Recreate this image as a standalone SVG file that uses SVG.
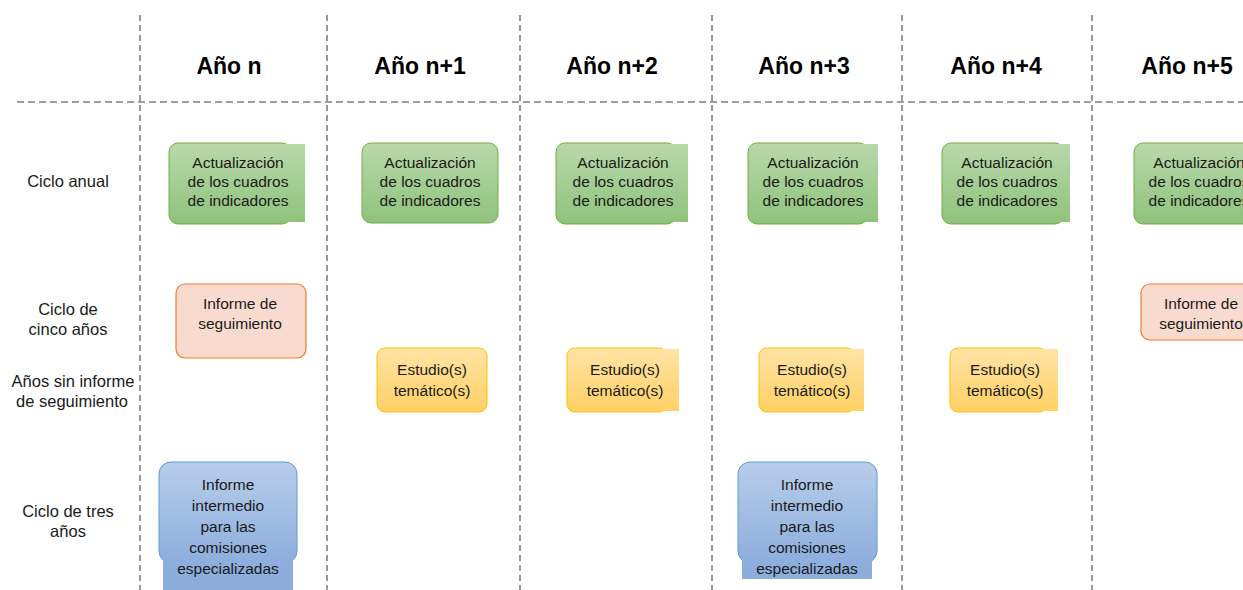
<svg xmlns="http://www.w3.org/2000/svg" width="1243" height="590" viewBox="0 0 1243 590">
<defs>
<linearGradient id="gG" gradientUnits="userSpaceOnUse" x1="0" y1="143" x2="0" y2="224"><stop offset="0" stop-color="#b8d9aa"/><stop offset="1" stop-color="#8fc27b"/></linearGradient>
<linearGradient id="gY" gradientUnits="userSpaceOnUse" x1="0" y1="348" x2="0" y2="412"><stop offset="0" stop-color="#ffe4a6"/><stop offset="1" stop-color="#ffd064"/></linearGradient>
<linearGradient id="gB" gradientUnits="userSpaceOnUse" x1="0" y1="462" x2="0" y2="563"><stop offset="0" stop-color="#b8cdea"/><stop offset="1" stop-color="#8daedd"/></linearGradient>
</defs>
<style>
.grid{stroke:#7f7f7f;stroke-width:1.6;fill:none}
.v{stroke-dasharray:6 4}
.h{stroke-dasharray:7 4}
.hd{font-family:"Liberation Sans",Arial,sans-serif;font-weight:bold;font-size:23px;fill:#000;text-anchor:middle}
.rl{font-family:"Liberation Sans",Arial,sans-serif;font-size:16.5px;fill:#1a1a1a;text-anchor:middle}
.t{font-family:"Liberation Sans",Arial,sans-serif;font-size:15.5px;fill:#1a1a1a;text-anchor:middle}
.gb{fill:url(#gG);stroke:#70ad47;stroke-width:1}
.ge{fill:url(#gG)}
.ob{fill:#f8dacf;stroke:#ed7d31;stroke-width:1.2}
.yb{fill:url(#gY);stroke:#ffc000;stroke-width:1}
.ye{fill:url(#gY)}
.bb{fill:url(#gB);stroke:#5b9bd5;stroke-width:1}
.be{fill:url(#gB)}
</style>
<rect width="1243" height="590" fill="#ffffff"/>
<g id="connectors">
<line class="grid v" x1="140" y1="15" x2="140" y2="590"/>
<line class="grid v" x1="327" y1="15" x2="327" y2="590"/>
<line class="grid v" x1="520" y1="15" x2="520" y2="590"/>
<line class="grid v" x1="712" y1="15" x2="712" y2="590"/>
<line class="grid v" x1="902" y1="15" x2="902" y2="590"/>
<line class="grid v" x1="1092" y1="15" x2="1092" y2="590"/>
<line class="grid h" x1="17" y1="102" x2="1243" y2="102"/>
</g>
<g id="headers">
<text class="hd" x="229" y="74">Año n</text>
<text class="hd" x="420" y="74">Año n+1</text>
<text class="hd" x="612" y="74">Año n+2</text>
<text class="hd" x="804" y="74">Año n+3</text>
<text class="hd" x="996" y="74">Año n+4</text>
<text class="hd" x="1187" y="74">Año n+5</text>
</g>
<g id="row-labels">
<text class="rl" x="68" y="187">Ciclo anual</text>
<text class="rl" x="68" y="315">Ciclo de</text>
<text class="rl" x="68" y="335">cinco años</text>
<text class="rl" x="73" y="387">Años sin informe</text>
<text class="rl" x="72" y="407">de seguimiento</text>
<text class="rl" x="68" y="517">Ciclo de tres</text>
<text class="rl" x="68" y="537">años</text>
</g>
<g id="green-n">
<rect class="gb" x="169" y="143" width="122" height="81" rx="9"/>
<rect class="ge" x="283" y="144" width="22" height="78"/>
<text class="t" x="238" y="168">Actualización</text><text class="t" x="238" y="187">de los cuadros</text><text class="t" x="238" y="206">de indicadores</text>
</g>
<g id="green-n1">
<rect class="gb" x="362" y="143" width="136" height="80" rx="9"/>
<text class="t" x="430" y="168">Actualización</text><text class="t" x="430" y="187">de los cuadros</text><text class="t" x="430" y="206">de indicadores</text>
</g>
<g id="green-n2">
<rect class="gb" x="556" y="143" width="120" height="81" rx="9"/>
<rect class="ge" x="668" y="144" width="20" height="78"/>
<text class="t" x="623" y="168">Actualización</text><text class="t" x="623" y="187">de los cuadros</text><text class="t" x="623" y="206">de indicadores</text>
</g>
<g id="green-n3">
<rect class="gb" x="748" y="143" width="120" height="81" rx="9"/>
<rect class="ge" x="860" y="144" width="18" height="78"/>
<text class="t" x="813" y="168">Actualización</text><text class="t" x="813" y="187">de los cuadros</text><text class="t" x="813" y="206">de indicadores</text>
</g>
<g id="green-n4">
<rect class="gb" x="942" y="143" width="122" height="81" rx="9"/>
<rect class="ge" x="1056" y="144" width="14" height="78"/>
<text class="t" x="1007" y="168">Actualización</text><text class="t" x="1007" y="187">de los cuadros</text><text class="t" x="1007" y="206">de indicadores</text>
</g>
<g id="green-n5">
<rect class="gb" x="1134" y="143" width="136" height="81" rx="9"/>
<text class="t" x="1199" y="168">Actualización</text><text class="t" x="1199" y="187">de los cuadros</text><text class="t" x="1199" y="206">de indicadores</text>
</g>
<g id="orange-n">
<rect class="ob" x="176" y="284" width="130" height="74" rx="9"/>
<text class="t" x="240" y="309">Informe de</text><text class="t" x="240" y="329">seguimiento</text>
</g>
<g id="orange-n5">
<rect class="ob" x="1141" y="284" width="130" height="56" rx="9"/>
<text class="t" x="1201" y="309">Informe de</text><text class="t" x="1201" y="329">seguimiento</text>
</g>
<g id="yellow-n1">
<rect class="yb" x="377" y="348" width="110" height="64" rx="8"/>
<text class="t" x="432" y="375">Estudio(s)</text><text class="t" x="432" y="396">temático(s)</text>
</g>
<g id="yellow-n2">
<rect class="yb" x="567" y="348" width="100" height="64" rx="8"/>
<rect class="ye" x="659" y="349" width="20" height="62"/>
<text class="t" x="625" y="375">Estudio(s)</text><text class="t" x="625" y="396">temático(s)</text>
</g>
<g id="yellow-n3">
<rect class="yb" x="759" y="348" width="96" height="64" rx="8"/>
<rect class="ye" x="847" y="349" width="17" height="62"/>
<text class="t" x="812" y="375">Estudio(s)</text><text class="t" x="812" y="396">temático(s)</text>
</g>
<g id="yellow-n4">
<rect class="yb" x="950" y="348" width="97" height="64" rx="8"/>
<rect class="ye" x="1039" y="349" width="19" height="62"/>
<text class="t" x="1005" y="375">Estudio(s)</text><text class="t" x="1005" y="396">temático(s)</text>
</g>
<g id="blue-n">
<rect class="bb" x="159" y="462" width="138" height="101" rx="12"/>
<rect class="be" x="163" y="540" width="130" height="50"/>
<text class="t" x="228" y="490">Informe</text><text class="t" x="228" y="511">intermedio</text><text class="t" x="228" y="532">para las</text><text class="t" x="228" y="553">comisiones</text><text class="t" x="228" y="574">especializadas</text>
</g>
<g id="blue-n3">
<rect class="bb" x="738" y="462" width="139" height="101" rx="12"/>
<rect class="be" x="742" y="540" width="130" height="39"/>
<text class="t" x="807" y="490">Informe</text><text class="t" x="807" y="511">intermedio</text><text class="t" x="807" y="532">para las</text><text class="t" x="807" y="553">comisiones</text><text class="t" x="807" y="574">especializadas</text>
</g>
</svg>
